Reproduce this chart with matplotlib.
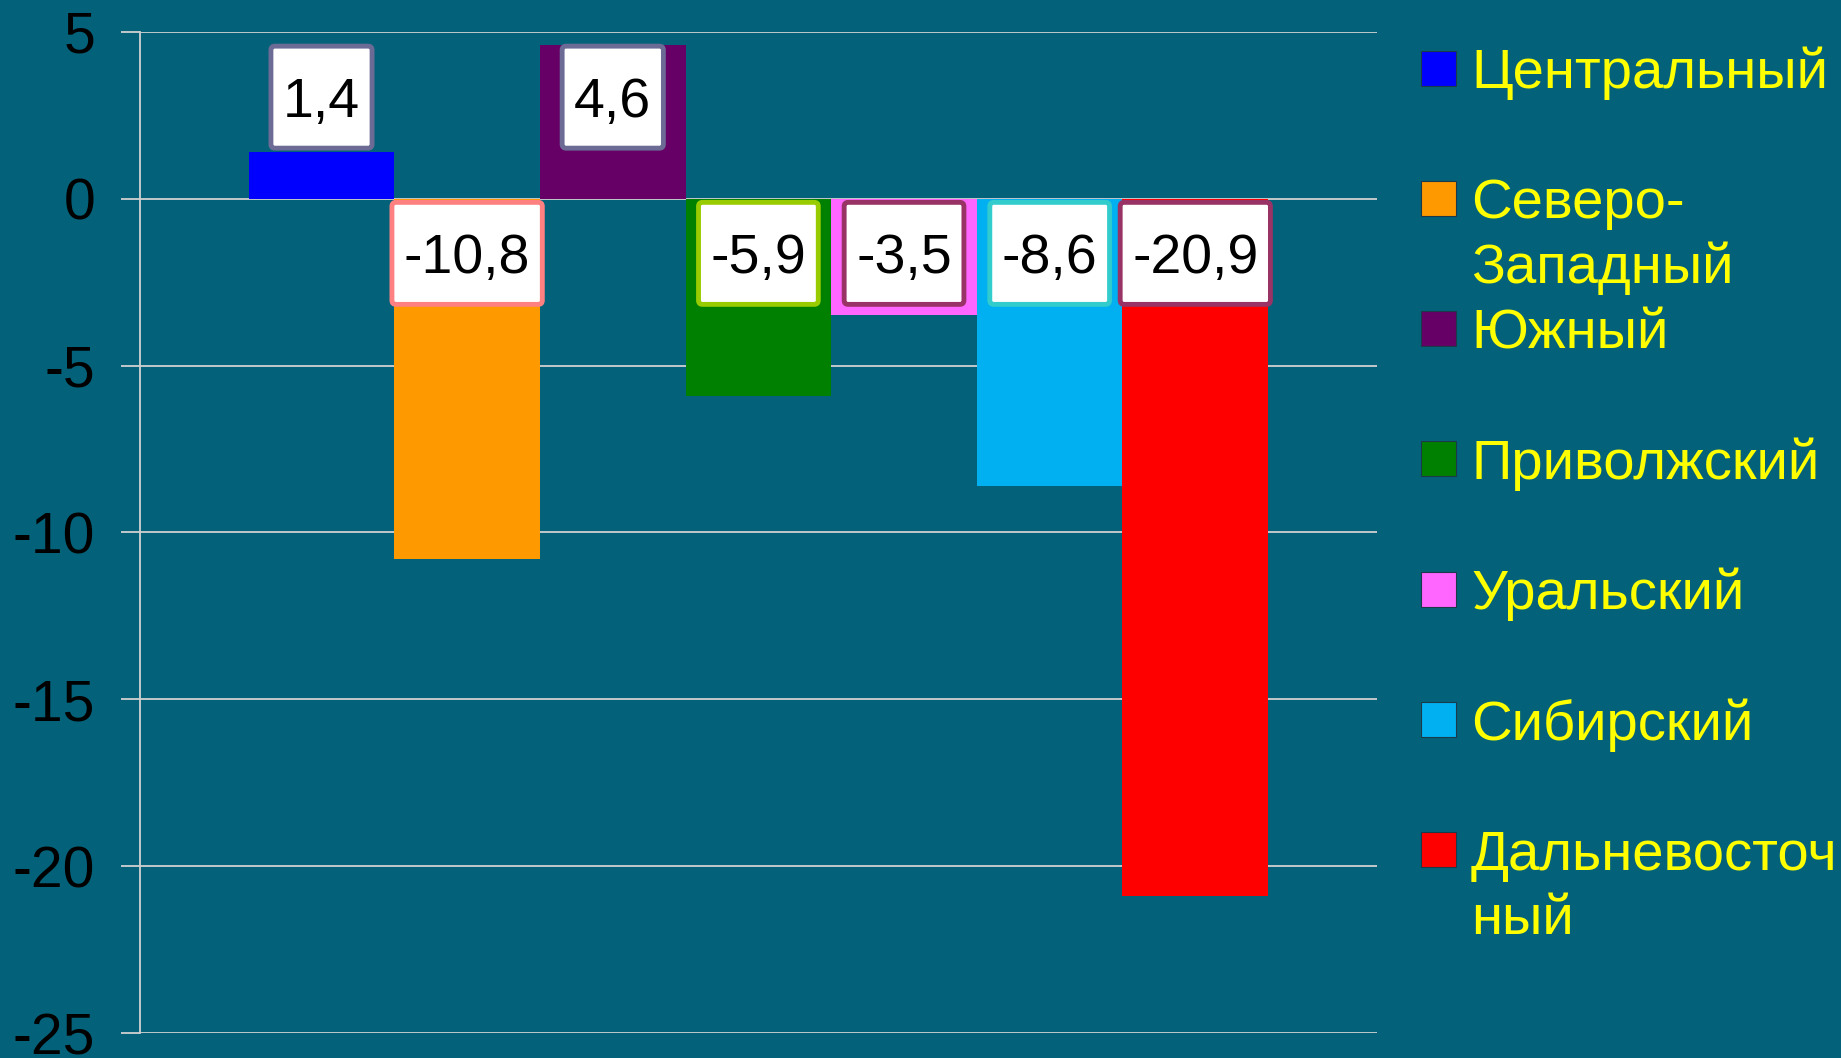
import matplotlib.pyplot as plt
from matplotlib.patches import FancyBboxPatch, Rectangle
from matplotlib.transforms import IdentityTransform

regions = ["Центральный", "Северо-\nЗападный", "Южный", "Приволжский",
           "Уральский", "Сибирский", "Дальневосточ\nный"]
values = [1.4, -10.8, 4.6, -5.9, -3.5, -8.6, -20.9]
colors = ["#0000ff", "#ff9900", "#660066", "#008000", "#ff66ff", "#00b0f0", "#ff0000"]
box_edges = ["#6b6b95", "#ff8080", "#6b6b95", "#99cc00", "#993366", "#33cccc", "#993366"]
yticks = [5, 0, -5, -10, -15, -20, -25]

bg = "#03627a"
grid_col = "#d0d0d0"
plt.rcParams["font.family"] = ["Liberation Sans", "DejaVu Sans"]

fig = plt.figure(figsize=(18.41, 10.58), dpi=100, facecolor=bg)
ax = fig.add_axes([0.0759, 0.0236, 0.748 - 0.0759, 0.970 - 0.0236])
ax.set_facecolor(bg)

w = 0.1177
xs = [(i - 3) * w for i in range(len(values))]
ax.bar(xs, values, width=w, color=colors, edgecolor="none", zorder=3)

ax.set_xlim(-0.5, 0.5)
ax.set_ylim(-25, 5)
ax.set_yticks(yticks)
ax.set_yticklabels([str(t) for t in yticks], fontsize=41, color="black")
ax.set_xticks([])
ax.tick_params(axis="y", length=14, width=1.3, color=grid_col, pad=18)
ax.yaxis.grid(True, color=grid_col, linewidth=1.3, zorder=0)
for s in ["top", "right", "bottom"]:
    ax.spines[s].set_visible(False)
ax.spines["left"].set_color(grid_col)
ax.spines["left"].set_linewidth(1.3)

# value labels in white boxes (box drawn in pixels around the text)
fig.canvas.draw()
renderer = fig.canvas.get_renderer()
for x, v, ec in zip(xs, values, box_edges):
    yc = 3.04 if v > 0 else -1.64
    px, py = ax.transData.transform((x, yc))
    _, ybase = ax.transData.inverted().transform((px, py - 20))
    txt = ax.text(x, ybase, f"{v:.1f}".replace(".", ","), fontsize=40, color="black",
                  ha="center", va="baseline", zorder=6)
    bb = txt.get_window_extent(renderer)
    ax.add_patch(FancyBboxPatch((bb.x0 - 12, py - 51), bb.width + 24, 102,
                                boxstyle="round,pad=0,rounding_size=4",
                                transform=IdentityTransform(),
                                fc="white", ec=ec, lw=3.5, zorder=5))

# legend
W, H = 1841, 1058
for i, (name, c) in enumerate(zip(regions, colors)):
    yc = 68 + i * 130.3
    fig.patches.append(Rectangle((1421 / W, 1 - (yc + 17.5) / H), 35 / W, 35 / H,
                                 transform=fig.transFigure, figure=fig,
                                 fc=c, ec="#1a3a4a", lw=0.8))
    for k, line in enumerate(name.split("\n")):
        fig.text(1471 / W, 1 - (yc + 20 + k * 64.6) / H, line, fontsize=40.5,
                 color="#ffff00", ha="left", va="baseline")

fig.savefig("out.png", dpi=100, facecolor=bg)
